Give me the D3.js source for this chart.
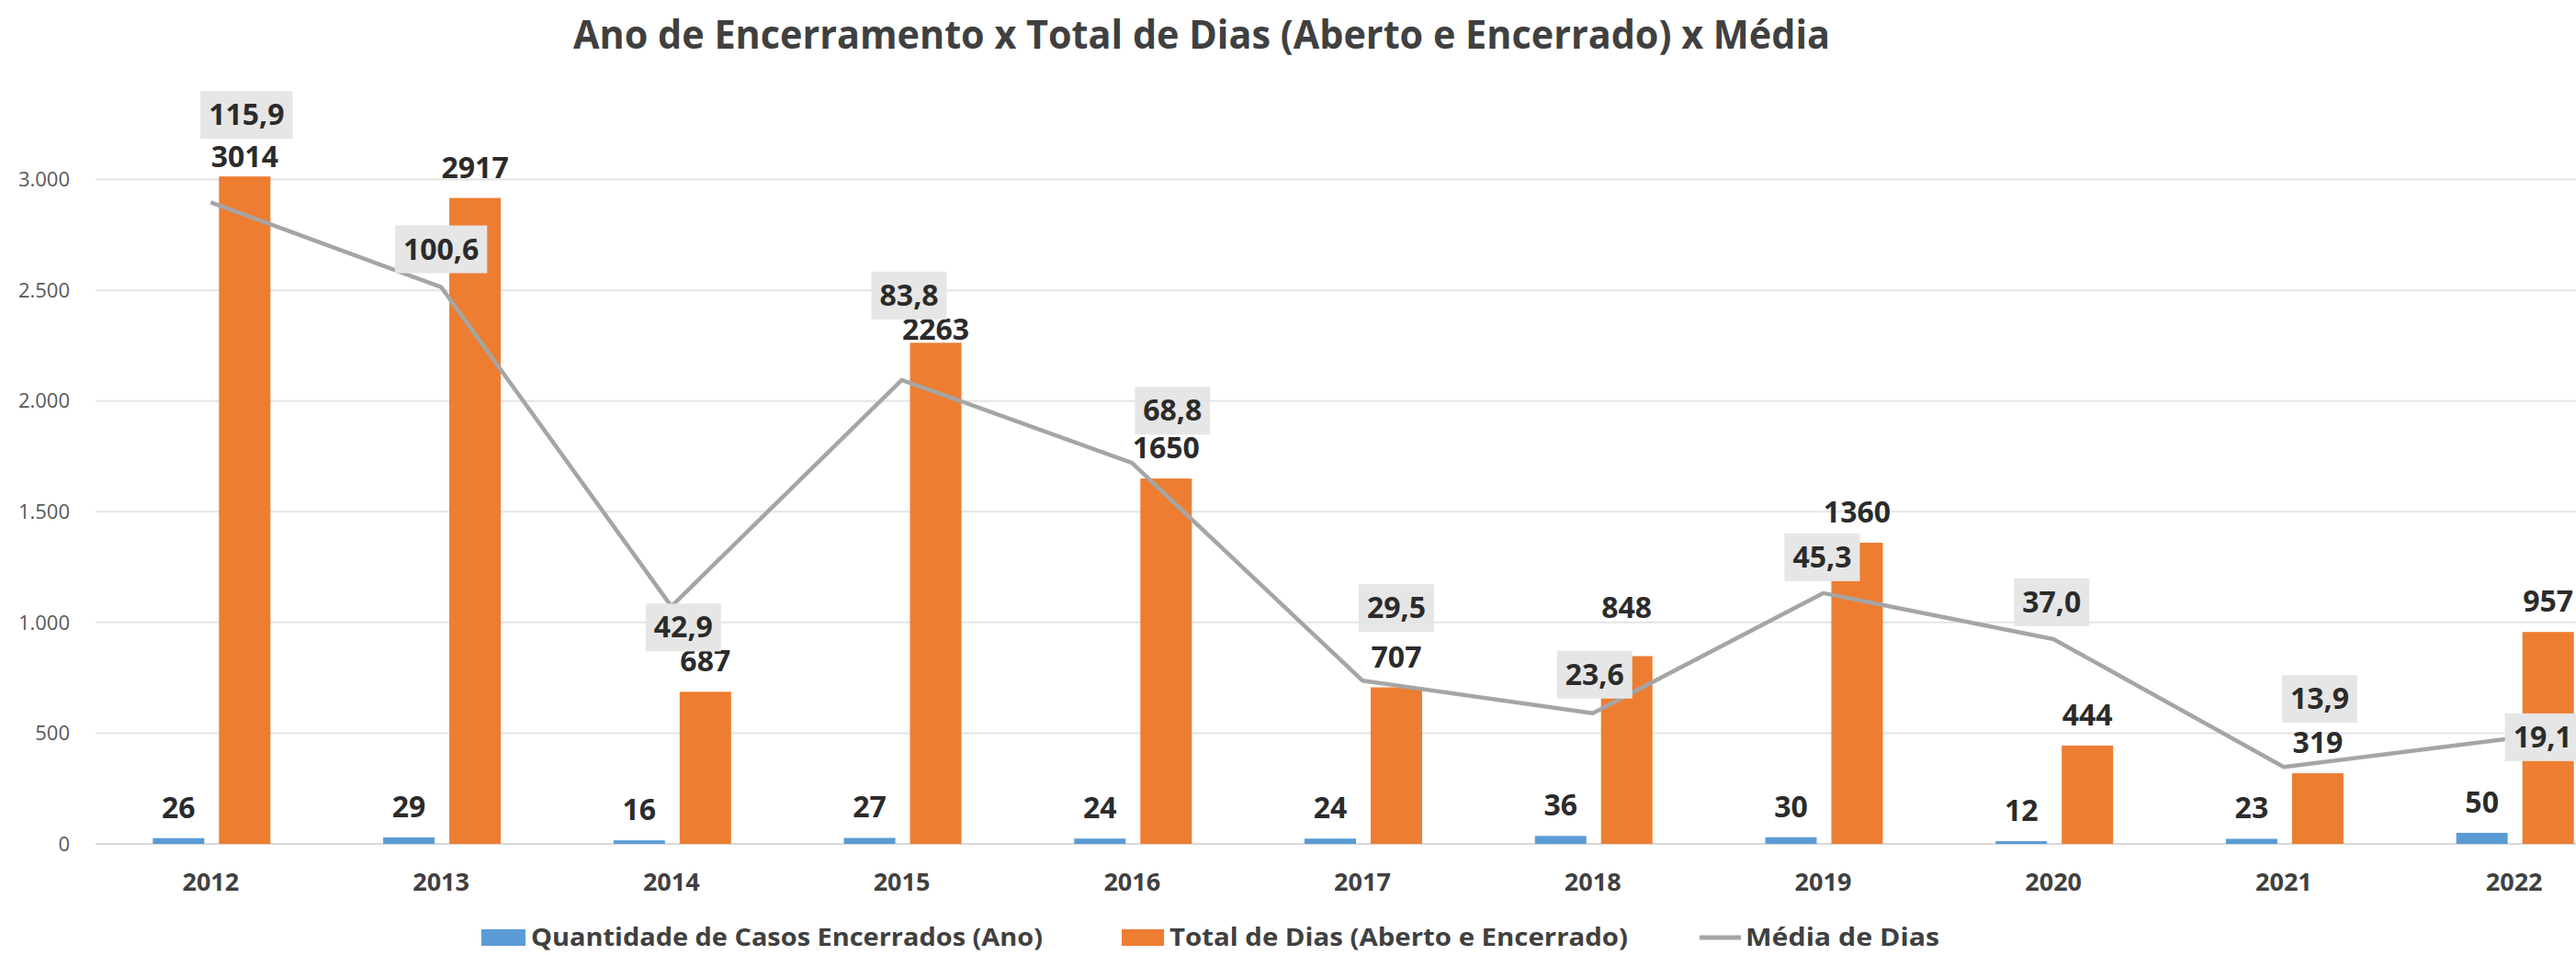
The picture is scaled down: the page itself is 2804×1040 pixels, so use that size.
<!DOCTYPE html>
<html lang="pt-BR">
<head>
<meta charset="UTF-8" />
<title>Ano de Encerramento x Total de Dias</title>
<style>
  body { margin: 0; background: #fff; }
  text { font-family: "Open Sans", sans-serif; }
</style>
</head>
<body>
<svg id="chart" width="2804" height="1040"></svg>

<script src="https://d3js.org/d3.v7.min.js"></script>
<script>
// dados
const anos = ['2012', '2013', '2014', '2015', '2016', '2017', '2018', '2019', '2020', '2021', '2022'];
const casos = [26, 29, 16, 27, 24, 24, 36, 30, 12, 23, 50];
const totalDias = [3014, 2917, 687, 2263, 1650, 707, 848, 1360, 444, 319, 957];
const mediaDias = [115.9, 100.6, 42.9, 83.8, 68.8, 29.5, 23.6, 45.3, 37.0, 13.9, 19.1];
const yTicks = [0, 500, 1000, 1500, 2000, 2500, 3000];

const legenda = ['Quantidade de Casos Encerrados (Ano)', 'Total de Dias (Aberto e Encerrado)', 'Média de Dias'];

// deslocamentos manuais dos rótulos (como estavam no Excel)
const mediaLabelOffset = [[39, -95], [0, -41], [13, 23], [8, -92], [44, -57], [37, -79], [2, -42], [-1, -39], [-2, -40], [39, -74], [31, -1]];
const totalLabelGap = { '2012': 10, '2015': 3, '2018': 42 };

const br = d3.formatLocale({ decimal: ',', thousands: '.', grouping: [3], currency: ['R$', ''] });
const fmtInt = br.format(',d');
const fmtDec = br.format(',.1f');

const svg = d3.select('#chart');

const x = d3.scaleBand().domain(anos).range([104, 2862]);
const x1 = d3.scaleBand().domain(['casos', 'total']).range([-63, 65]).paddingInner(0.222);
const y = d3.scaleLinear().domain([0, 3500]).range([919, 75]);
const y2 = d3.scaleLinear().domain([0, 140]).range([919, 75]);
const cx = a => x(a) + x.bandwidth() / 2;

// título
svg.append('text')
  .attr('x', 624).attr('y', 53)
  .attr('textLength', 1368).attr('lengthAdjust', 'spacingAndGlyphs')
  .attr('font-size', 43).attr('font-weight', 700).attr('fill', '#404040')
  .text('Ano de Encerramento x Total de Dias (Aberto e Encerrado) x Média');

// grade e eixo y
svg.append('g').selectAll('line')
  .data(yTicks)
  .join('line')
  .attr('x1', 104).attr('x2', 2804)
  .attr('y1', d => y(d)).attr('y2', d => y(d))
  .attr('stroke', d => d === 0 ? '#d9d9d9' : '#e4e4e4')
  .attr('stroke-width', 2);

svg.append('g').selectAll('text')
  .data(yTicks)
  .join('text')
  .attr('x', 76).attr('y', d => y(d))
  .attr('dy', '0.35em')
  .attr('text-anchor', 'end')
  .attr('font-size', 22).attr('fill', '#595959')
  .text(d => fmtInt(d));

// eixo x
svg.append('g').selectAll('text')
  .data(anos)
  .join('text')
  .attr('x', cx).attr('y', 970)
  .attr('text-anchor', 'middle')
  .attr('font-size', 27).attr('font-weight', 700).attr('fill', '#404040')
  .text(d => d);

// barras
const rows = anos.map((a, i) => ({ ano: a, casos: casos[i], total: totalDias[i], media: mediaDias[i], i }));

svg.append('g').selectAll('rect')
  .data(rows)
  .join('rect')
  .attr('x', d => cx(d.ano) + x1('casos'))
  .attr('width', x1.bandwidth())
  .attr('y', d => y(d.casos))
  .attr('height', d => y(0) - y(d.casos))
  .attr('fill', '#5b9bd5');

svg.append('g').selectAll('rect')
  .data(rows)
  .join('rect')
  .attr('x', d => cx(d.ano) + x1('total'))
  .attr('width', x1.bandwidth())
  .attr('y', d => y(d.total))
  .attr('height', d => y(0) - y(d.total))
  .attr('fill', '#ed7d31');

// rótulos das barras
const labelStyle = sel => sel
  .attr('text-anchor', 'middle')
  .attr('font-size', 32).attr('font-weight', 700).attr('fill', '#2b2b2b');

svg.append('g').selectAll('text')
  .data(rows)
  .join('text')
  .attr('x', d => cx(d.ano) + x1('casos') + x1.bandwidth() / 2)
  .attr('y', d => y(d.casos) - 22)
  .call(labelStyle)
  .text(d => d.casos);

svg.append('g').selectAll('text')
  .data(rows)
  .join('text')
  .attr('x', d => cx(d.ano) + x1('total') + x1.bandwidth() / 2)
  .attr('y', d => y(d.total) - (totalLabelGap[d.ano] ?? 22))
  .call(labelStyle)
  .text(d => d.total);

// linha da média
const line = d3.line()
  .x(d => cx(d.ano))
  .y(d => y2(d.media));

svg.append('path')
  .datum(rows)
  .attr('d', line)
  .attr('fill', 'none')
  .attr('stroke', '#a5a5a5')
  .attr('stroke-width', 4.5)
  .attr('stroke-linejoin', 'round');

// rótulos da média com caixa cinza
const mg = svg.append('g').selectAll('g')
  .data(rows)
  .join('g')
  .attr('transform', d => {
    const o = mediaLabelOffset[d.i];
    return `translate(${cx(d.ano) + o[0]},${y2(d.media) + o[1]})`;
  });

mg.append('rect').attr('fill', '#e6e6e6');
mg.append('text')
  .attr('y', 11)
  .call(labelStyle)
  .text(d => fmtDec(d.media));

mg.each(function () {
  const g = d3.select(this);
  const w = g.select('text').node().getComputedTextLength() + 18;
  g.select('rect').attr('x', -w / 2).attr('y', -26).attr('width', w).attr('height', 52);
});

// legenda
const leg = svg.append('g');
leg.append('rect').attr('x', 524).attr('y', 1012).attr('width', 48).attr('height', 18).attr('fill', '#5b9bd5');
leg.append('rect').attr('x', 1221).attr('y', 1012).attr('width', 46).attr('height', 18).attr('fill', '#ed7d31');
leg.append('line').attr('x1', 1850).attr('x2', 1895).attr('y1', 1021).attr('y2', 1021)
  .attr('stroke', '#a5a5a5').attr('stroke-width', 5);

const legX = [578, 1273, 1900];
const legW = [557, 499, 211];
leg.selectAll('text')
  .data(legenda)
  .join('text')
  .attr('x', (d, i) => legX[i]).attr('y', 1030)
  .attr('textLength', (d, i) => legW[i]).attr('lengthAdjust', 'spacingAndGlyphs')
  .attr('font-size', 26).attr('font-weight', 700).attr('fill', '#404040')
  .text(d => d);
</script>
</body>
</html>
